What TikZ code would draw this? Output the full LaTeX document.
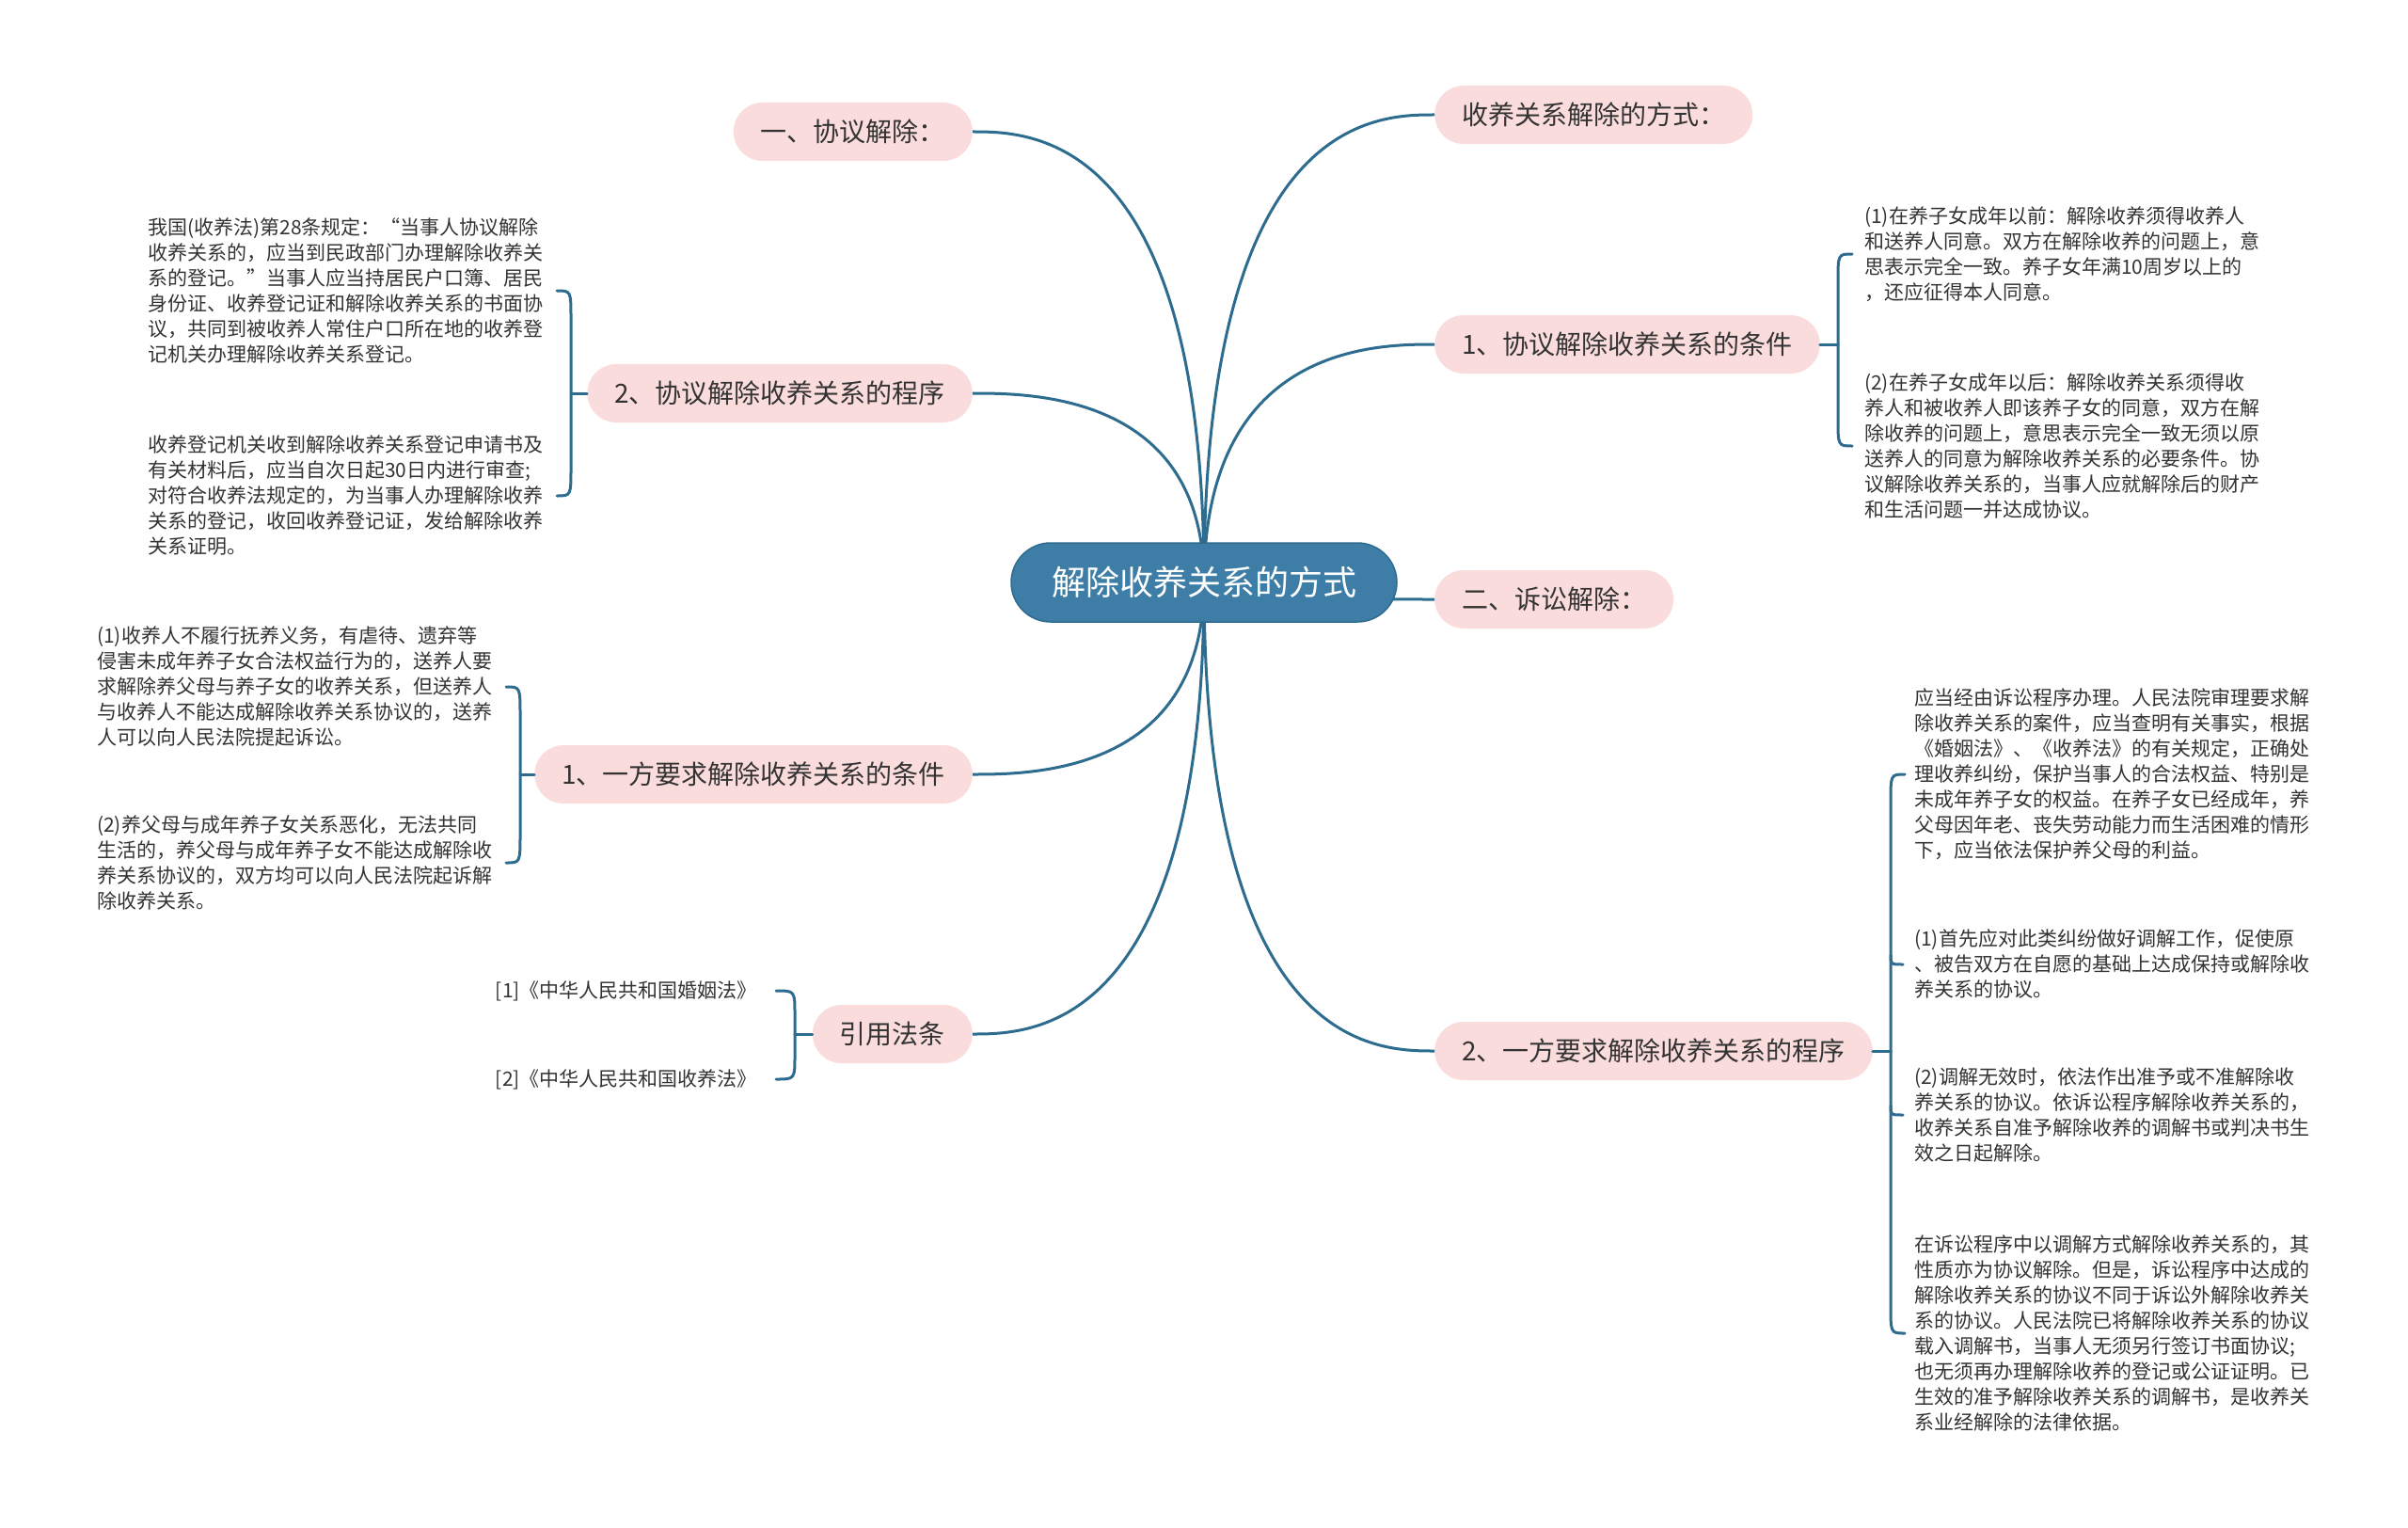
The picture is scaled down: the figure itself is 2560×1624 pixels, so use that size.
\documentclass[tikz,border=0pt]{standalone}
\usepackage{fontspec}
\setmainfont{Noto Sans CJK SC}
\usetikzlibrary{calc,backgrounds}

\definecolor{edgec}{RGB}{46,108,143}
\definecolor{rootc}{RGB}{62,126,166}
\definecolor{pinkc}{RGB}{251,220,220}
\definecolor{txtc}{RGB}{51,51,51}

\tikzset{
  rootbox/.style={fill=rootc, draw=edgec, line width=1.5pt, rounded corners=42pt,
    minimum height=84pt, minimum width=410pt, text=white, font=\fontsize{36}{40}\selectfont},
  branchbox/.style={fill=pinkc, rounded corners=31pt, minimum height=62pt,
    inner xsep=29pt, text=txtc, font=\fontsize{28}{32}\selectfont},
  leafbox/.style={align=left, text=txtc, font=\fontsize{21}{27}\selectfont, inner sep=0pt},
  link/.style={draw=edgec, line width=3pt, line cap=round},
}

\begin{document}
\begin{tikzpicture}[x=1pt,y=-1pt]
\useasboundingbox (0,0) rectangle (2560,1624);

% root
\node[rootbox] (c) at (1280,619) {解除收养关系的方式};

% left branches
\node[branchbox, anchor=east] (l1) at (1034,140) {一、协议解除：};
\node[branchbox, anchor=east] (l2) at (1034,418) {2、协议解除收养关系的程序};
\node[branchbox, anchor=east] (l3) at (1034,823) {1、一方要求解除收养关系的条件};
\node[branchbox, anchor=east] (l4) at (1034,1099) {引用法条};

% right branches
\node[branchbox, anchor=west] (r1) at (1525,122) {收养关系解除的方式：};
\node[branchbox, anchor=west] (r2) at (1525,366) {1、协议解除收养关系的条件};
\node[branchbox, anchor=west] (r3) at (1525,637) {二、诉讼解除：};
\node[branchbox, anchor=west] (r4) at (1525,1117) {2、一方要求解除收养关系的程序};

% leaves of l2
\node[leafbox, anchor=west] (a1) at (157,309) {我国(收养法)第28条规定：“当事人协议解除\\收养关系的，应当到民政部门办理解除收养关\\系的登记。”当事人应当持居民户口簿、居民\\身份证、收养登记证和解除收养关系的书面协\\议，共同到被收养人常住户口所在地的收养登\\记机关办理解除收养关系登记。};
\node[leafbox, anchor=west] (a2) at (157,527) {收养登记机关收到解除收养关系登记申请书及\\有关材料后，应当自次日起30日内进行审查;\\对符合收养法规定的，为当事人办理解除收养\\关系的登记，收回收养登记证，发给解除收养\\关系证明。};

% leaves of l3
\node[leafbox, anchor=west] (b1) at (103,730) {(1)收养人不履行抚养义务，有虐待、遗弃等\\侵害未成年养子女合法权益行为的，送养人要\\求解除养父母与养子女的收养关系，但送养人\\与收养人不能达成解除收养关系协议的，送养\\人可以向人民法院提起诉讼。};
\node[leafbox, anchor=west] (b2) at (103,917) {(2)养父母与成年养子女关系恶化，无法共同\\生活的，养父母与成年养子女不能达成解除收\\养关系协议的，双方均可以向人民法院起诉解\\除收养关系。};

% leaves of l4
\node[leafbox, anchor=east] (c1) at (805,1053) {[1]《中华人民共和国婚姻法》};
\node[leafbox, anchor=east] (c2) at (805,1147) {[2]《中华人民共和国收养法》};

% leaves of r2
\node[leafbox, anchor=west] (d1) at (1982,270) {(1)在养子女成年以前：解除收养须得收养人\\和送养人同意。双方在解除收养的问题上，意\\思表示完全一致。养子女年满10周岁以上的\\，还应征得本人同意。};
\node[leafbox, anchor=west] (d2) at (1982,474) {(2)在养子女成年以后：解除收养关系须得收\\养人和被收养人即该养子女的同意，双方在解\\除收养的问题上，意思表示完全一致无须以原\\送养人的同意为解除收养关系的必要条件。协\\议解除收养关系的，当事人应就解除后的财产\\和生活问题一并达成协议。};

% leaves of r4
\node[leafbox, anchor=west] (e1) at (2035,823) {应当经由诉讼程序办理。人民法院审理要求解\\除收养关系的案件，应当查明有关事实，根据\\《婚姻法》、《收养法》的有关规定，正确处\\理收养纠纷，保护当事人的合法权益、特别是\\未成年养子女的权益。在养子女已经成年，养\\父母因年老、丧失劳动能力而生活困难的情形\\下，应当依法保护养父母的利益。};
\node[leafbox, anchor=west] (e2) at (2035,1025) {(1)首先应对此类纠纷做好调解工作，促使原\\、被告双方在自愿的基础上达成保持或解除收\\养关系的协议。};
\node[leafbox, anchor=west] (e3) at (2035,1185) {(2)调解无效时，依法作出准予或不准解除收\\养关系的协议。依诉讼程序解除收养关系的，\\收养关系自准予解除收养的调解书或判决书生\\效之日起解除。};
\node[leafbox, anchor=west] (e4) at (2035,1417) {在诉讼程序中以调解方式解除收养关系的，其\\性质亦为协议解除。但是，诉讼程序中达成的\\解除收养关系的协议不同于诉讼外解除收养关\\系的协议。人民法院已将解除收养关系的协议\\载入调解书，当事人无须另行签订书面协议;\\也无须再办理解除收养的登记或公证证明。已\\生效的准予解除收养关系的调解书，是收养关\\系业经解除的法律依据。};

% brace hubs
\coordinate (ba) at (607,418);
\coordinate (bb) at (553,823);
\coordinate (bc) at (845,1099);
\coordinate (bd) at (1954,366);
\coordinate (be) at (2010,1117);

\begin{scope}[on background layer]
  \fill[white] (0,0) rectangle (2560,1624);
  % main curves
  \foreach \n/\a in {l1/east,l2/east,l3/east,l4/east,r1/west,r2/west,r3/west,r4/west}{
    \draw[link] (c.center) .. controls (c.center |- \n.\a) and ($(c.center |- \n.\a)!0.75!(\n.\a)$) .. (\n.\a);
  }
\end{scope}

% stubs
\draw[link] (l2.west) -- (ba);
\draw[link] (l3.west) -- (bb);
\draw[link] (l4.west) -- (bc);
\draw[link] (r2.east) -- (bd);
\draw[link] (r4.east) -- (be);

% left braces
\draw[link] ($(ba |- a1)+(-15,0)$) .. controls (ba |- a1) .. ($(ba |- a1)+(0,30)$)
  -- ($(ba |- a2)+(0,-30)$) .. controls (ba |- a2) .. ($(ba |- a2)+(-15,0)$);
\draw[link] ($(bb |- b1)+(-15,0)$) .. controls (bb |- b1) .. ($(bb |- b1)+(0,30)$)
  -- ($(bb |- b2)+(0,-30)$) .. controls (bb |- b2) .. ($(bb |- b2)+(-15,0)$);
\draw[link] ($(bc |- c1)+(-20,0)$) .. controls (bc |- c1) .. ($(bc |- c1)+(0,25)$)
  -- ($(bc |- c2)+(0,-25)$) .. controls (bc |- c2) .. ($(bc |- c2)+(-20,0)$);

% right braces
\draw[link] ($(bd |- d1)+(15,0)$) .. controls (bd |- d1) .. ($(bd |- d1)+(0,30)$)
  -- ($(bd |- d2)+(0,-30)$) .. controls (bd |- d2) .. ($(bd |- d2)+(15,0)$);
\draw[link] ($(be |- e1)+(15,0)$) .. controls (be |- e1) .. ($(be |- e1)+(0,30)$)
  -- ($(be |- e4)+(0,-30)$) .. controls (be |- e4) .. ($(be |- e4)+(15,0)$);
\draw[link] ($(be |- e2)+(0,-10)$) .. controls (be |- e2) .. ($(be |- e2)+(13,0)$);
\draw[link] ($(be |- e3)+(0,-10)$) .. controls (be |- e3) .. ($(be |- e3)+(13,0)$);

\end{tikzpicture}
\end{document}
